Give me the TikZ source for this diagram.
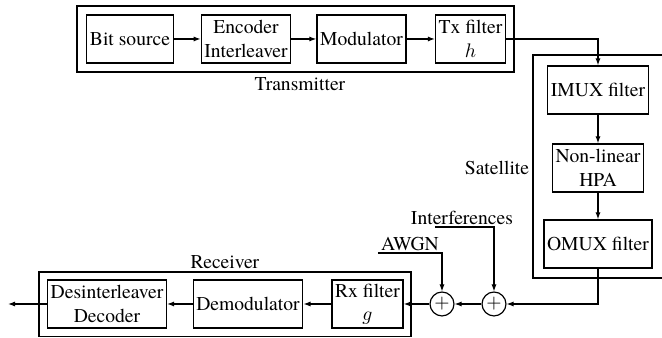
\documentclass[tikz,border=0pt]{standalone}
\usepackage{fontspec}
\setmainfont{texgyretermes}[Extension=.otf, UprightFont=*-regular, BoldFont=*-bold, ItalicFont=*-italic, BoldItalicFont=*-bolditalic]
\usetikzlibrary{arrows.meta}
\tikzset{
	block/.style={draw, align=center, minimum height=24.5pt, inner xsep=1.6pt, inner ysep=1pt},
	adder/.style={draw, circle, minimum size=12.2pt, inner sep=0pt},
	tag/.style={inner sep=1pt}
}
\begin{document}
\begin{tikzpicture}[x=0.51pt, y=-0.51pt, line width=0.6pt, >={Latex[length=3.6pt, width=2.6pt]}]
		\useasboundingbox (0, 0) rectangle (662, 338);

		\draw	(77, 6) rectangle (514, 72);
		\node [tag]	(txlabel) at (300, 84) {Transmitter};

		\node [block]	(bits) at (130, 39) {Bit source};
		\node [block]	(enc) at (246, 39) {Encoder\\Interleaver};
		\node [block]	(mod) at (361.5, 39) {Modulator};
		\node [block]	(tx) at (470.5, 39) {Tx filter\\$h$};

		\draw [->]	(bits) to (enc);
		\draw [->]	(enc) to (mod);
		\draw [->]	(mod) to (tx);

		\draw	(663, 55) -| (533, 278) -- (663, 278);
		\node [tag]	(satlabel) at (497, 168) {Satellite};

		\node [block]	(imux) at (598, 90) {IMUX filter};
		\node [block]	(hpa) at (598, 168) {Non-linear\\HPA};
		\node [block]	(omux) at (598, 244) {OMUX filter};

		\draw [->]	(tx.east) -| (imux.north);
		\draw [->]	(imux) to (hpa);
		\draw [->]	(hpa) to (omux);

		\node [adder]	(addi) at (494, 304) {$+$};
		\node [adder]	(addn) at (442, 304) {$+$};

		\coordinate	(intin) at (435, 227);
		\node [tag, anchor=south]	(intlabel) at (462, 227) {Interferences};
		\coordinate	(awgnin) at (378, 253);
		\node [tag, anchor=south]	(awgnlabel) at (410, 253) {AWGN};

		\draw [->]	(omux.south) |- (addi.east);
		\draw [->]	(intin) -| (addi.north);
		\draw [->]	(awgnin) -| (addn.north);
		\draw [->]	(addi) to (addn);

		\draw	(39, 272) rectangle (411, 336.5);
		\node [tag]	(rxlabel) at (225, 262) {Receiver};

		\node [block]	(rx) at (367.5, 304) {Rx filter\\$g$};
		\node [block]	(demod) at (248, 304) {Demodulator};
		\node [block]	(dec) at (107, 304) {Desinterleaver\\Decoder};
		\coordinate	(out) at (8, 304);

		\draw [->]	(addn) to (rx);
		\draw [->]	(rx) to (demod);
		\draw [->]	(demod) to (dec);
		\draw [->]	(dec) to (out);
\end{tikzpicture}
\end{document}
